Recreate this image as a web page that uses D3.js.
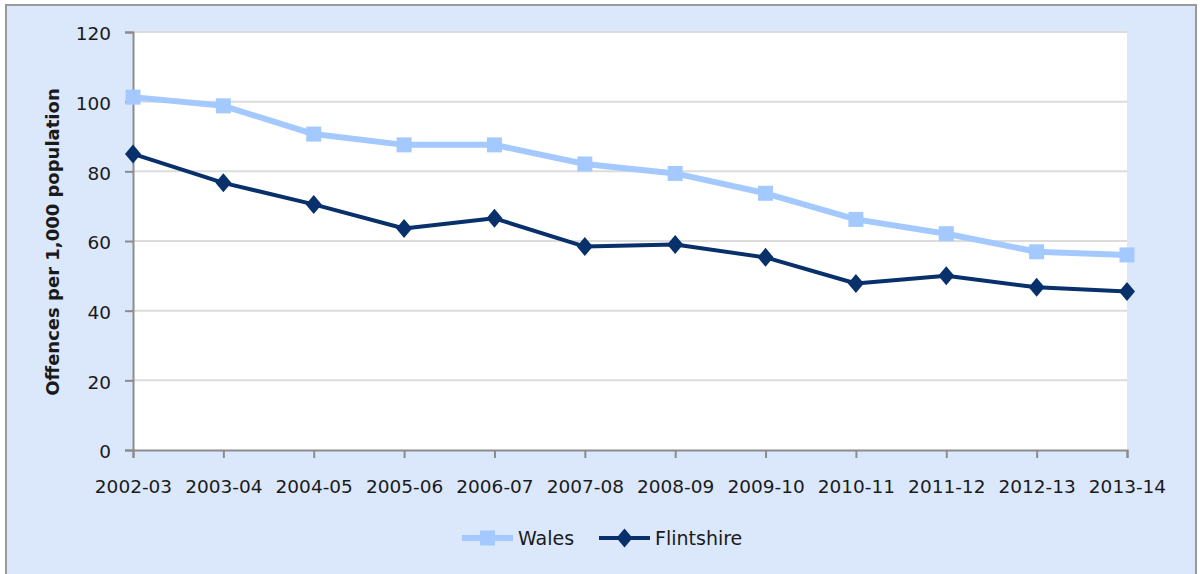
<!DOCTYPE html>
<html>
<head>
<meta charset="utf-8">
<script src="https://cdn.jsdelivr.net/npm/d3@7"></script>
<style>
  html, body { margin: 0; padding: 0; background: #ffffff; }
  svg { display: block; }
  text { font-family: "DejaVu Sans", Verdana, sans-serif; fill: #1a1a1a; }
</style>
</head>
<body>
<svg id="chart" width="1202" height="574"></svg>
<script>
// Recorded crime: offences per 1,000 population, by financial year
const years = ["2002-03", "2003-04", "2004-05", "2005-06", "2006-07", "2007-08",
               "2008-09", "2009-10", "2010-11", "2011-12", "2012-13", "2013-14"];
const wales      = [101.3, 98.8, 90.7, 87.6, 87.6, 82.1, 79.4, 73.7, 66.2, 62.1, 56.9, 56.0];
const flintshire = [85.0, 76.7, 70.5, 63.6, 66.5, 58.4, 59.0, 55.3, 47.8, 50.0, 46.7, 45.5];
const yTicks = [0, 20, 40, 60, 80, 100, 120];
const seriesNames = ["Wales", "Flintshire"];

const svg = d3.select("#chart");

// chart frame
svg.append("rect")
  .attr("x", 6).attr("y", 5).attr("width", 1190).attr("height", 575)
  .attr("fill", "#dbe8fc").attr("stroke", "#9a9a9a").attr("stroke-width", 2);

const plot = { left: 133, right: 1127, top: 32, bottom: 450 };

const x = d3.scalePoint().domain(years).range([plot.left, plot.right]).padding(0);
const y = d3.scaleLinear().domain([0, 120]).range([plot.bottom, plot.top]);

// plot area
svg.append("rect")
  .attr("x", plot.left).attr("y", plot.top)
  .attr("width", plot.right - plot.left).attr("height", plot.bottom - plot.top)
  .attr("fill", "#ffffff");

// horizontal gridlines
svg.append("g")
  .selectAll("line")
  .data(yTicks.filter(d => d > 0))
  .join("line")
  .attr("x1", plot.left).attr("x2", plot.right)
  .attr("y1", d => y(d)).attr("y2", d => y(d))
  .attr("stroke", "#dcdcdc").attr("stroke-width", 2);

// y axis
const yAxis = svg.append("g")
  .attr("transform", `translate(${plot.left},0)`)
  .call(d3.axisLeft(y).tickValues(yTicks).tickSize(8).tickPadding(14).tickFormat(d3.format("d")));
yAxis.select(".domain").attr("stroke", "#8c8c8c").attr("stroke-width", 2);
yAxis.selectAll(".tick line").attr("stroke", "#8c8c8c").attr("stroke-width", 2);
yAxis.selectAll(".tick text")
  .attr("font-size", 18.5).attr("font-family", "DejaVu Sans").attr("fill", "#1a1a1a")
  .attr("dy", "0.42em");

// x axis
const xAxis = svg.append("g")
  .attr("transform", `translate(0,${plot.bottom})`)
  .call(d3.axisBottom(x).tickSize(8).tickPadding(24));
xAxis.select(".domain").attr("stroke", "#8c8c8c").attr("stroke-width", 2);
xAxis.selectAll(".tick line").attr("stroke", "#8c8c8c").attr("stroke-width", 2);
xAxis.selectAll(".tick text")
  .attr("font-size", 18.5).attr("font-family", "DejaVu Sans").attr("fill", "#1a1a1a")
  .attr("dy", "0.62em");

// y axis title
svg.append("text")
  .attr("transform", "translate(59,242) rotate(-90)")
  .attr("text-anchor", "middle")
  .attr("font-size", 18)
  .attr("font-weight", "bold")
  .text("Offences per 1,000 population");

const line = d3.line().x((d, i) => x(years[i])).y(d => y(d));

const walesColor = "#a3c9ff";
const flintColor = "#08306b";

// Wales series
svg.append("path")
  .datum(wales)
  .attr("d", line)
  .attr("fill", "none").attr("stroke", walesColor).attr("stroke-width", 6)
  .attr("stroke-linejoin", "round");
svg.append("g")
  .selectAll("rect")
  .data(wales)
  .join("rect")
  .attr("x", (d, i) => x(years[i]) - 7.5)
  .attr("y", d => y(d) - 7.5)
  .attr("width", 15).attr("height", 15)
  .attr("fill", walesColor);

// Flintshire series
const diamond = (cx, cy, w, h) =>
  `M${cx},${cy - h / 2}L${cx + w / 2},${cy}L${cx},${cy + h / 2}L${cx - w / 2},${cy}Z`;

svg.append("path")
  .datum(flintshire)
  .attr("d", line)
  .attr("fill", "none").attr("stroke", flintColor).attr("stroke-width", 4)
  .attr("stroke-linejoin", "round");
svg.append("g")
  .selectAll("path")
  .data(flintshire)
  .join("path")
  .attr("d", (d, i) => diamond(x(years[i]), y(d), 16, 19))
  .attr("fill", flintColor);

// legend
const legend = svg.append("g");
const legendItems = [
  { name: seriesNames[0], x0: 462, color: walesColor, width: 6, marker: "square" },
  { name: seriesNames[1], x0: 599, color: flintColor, width: 4, marker: "diamond" }
];
legendItems.forEach(item => {
  const ly = 538;
  legend.append("line")
    .attr("x1", item.x0).attr("x2", item.x0 + 51)
    .attr("y1", ly).attr("y2", ly)
    .attr("stroke", item.color).attr("stroke-width", item.width);
  if (item.marker === "square") {
    legend.append("rect")
      .attr("x", item.x0 + 25.5 - 7.5).attr("y", ly - 7.5)
      .attr("width", 15).attr("height", 15)
      .attr("fill", item.color);
  } else {
    legend.append("path")
      .attr("d", diamond(item.x0 + 25.5, ly, 16, 19))
      .attr("fill", item.color);
  }
  legend.append("text")
    .attr("x", item.x0 + 56).attr("y", 545)
    .attr("font-size", 19)
    .text(item.name);
});
</script>
</body>
</html>
